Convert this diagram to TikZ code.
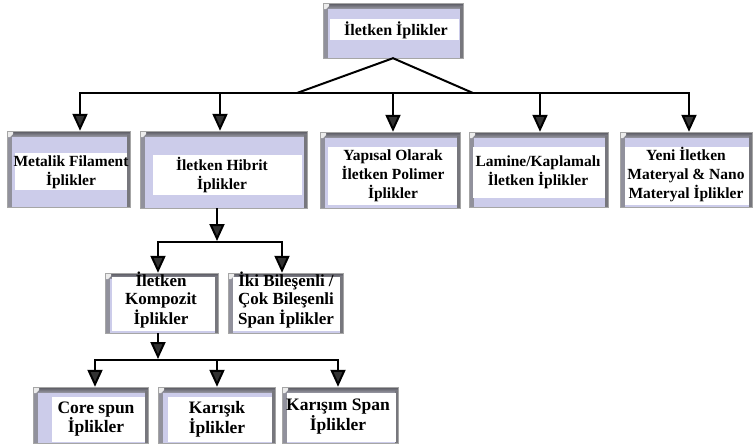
\documentclass[tikz,border=0pt]{standalone}
\usepackage{fontspec}
\setmainfont{Liberation Serif}
\usetikzlibrary{arrows.meta,fit}
\definecolor{lav}{RGB}{204,204,234}
\definecolor{bevdark}{RGB}{85,85,92}
\definecolor{bevmid}{RGB}{145,145,156}
\definecolor{tipgray}{RGB}{50,50,50}
\tikzset{
 outerbox/.style={fill=lav, draw=none, inner sep=0pt},
 innerbox/.style={fill=white, draw=none, inner sep=0pt},
 lbl/.style={font=\bfseries, align=center, inner sep=0pt, text=black},
 ln/.style={line width=2pt, black},
 arr/.style={line width=2pt, black, -{Triangle[width=15pt,length=17pt,fill=tipgray]}},
 fa/.style={font=\bfseries\fontsize{16}{19}\selectfont},
 fb/.style={font=\bfseries\fontsize{15.5}{19}\selectfont},
 fc/.style={font=\bfseries\fontsize{17}{18}\selectfont},
 fd/.style={font=\bfseries\fontsize{17.5}{19.5}\selectfont},
}
\newcommand\bevbox[9]{%
 \node[outerbox, fit={(#2,#3) (#4,#5)}] (#1) {};
 \shade[top color=bevdark, bottom color=bevmid] (#2,#3) rectangle (#4,#3+5);
 \fill[bevmid] (#2,#3+5) rectangle (#2+5,#5);
 \fill[bevdark!80] (#4-3,#3+4) rectangle (#4,#5);
 \fill[white!85!gray] (#2,#3) -- (#2+6,#3) -- (#2+6,#3+3) -- (#2+3,#3+6) -- (#2,#3+6) -- cycle;
 \draw[gray!70, line width=0.6pt] (#1.south west) rectangle (#1.north east);
 \node[innerbox, fit={(#6,#7) (#8,#9)}] (#1in) {};
}
\begin{document}
\begin{tikzpicture}[x=1pt,y=-1pt]
\useasboundingbox (0,0) rectangle (755,445);
% boxes
\bevbox{top}{323}{3}{463}{58}{330}{19}{459}{40}
\bevbox{metal}{7}{131}{130}{207}{15}{153}{127}{190}
\bevbox{hib}{140}{131}{307}{208}{153}{155}{302}{195}
\bevbox{yap}{320}{132}{460}{208}{328}{147}{457}{205}
\bevbox{lam}{469}{132}{608}{207}{473}{147}{605}{198}
\bevbox{yeni}{620}{132}{752}{207}{625}{147}{749}{205}
\bevbox{komp}{105}{273}{218}{333}{112}{277}{215}{331}
\bevbox{iki}{228}{273}{343}{333}{233}{277}{340}{331}
\bevbox{core}{33}{387}{148}{443}{52}{397}{145}{442}
\bevbox{kar}{158}{387}{275}{443}{168}{397}{272}{442}
\bevbox{karsp}{282}{387}{398}{443}{287}{393}{396}{442}
% labels
\node[lbl,fa] (ttop) at (396,30) {İletken İplikler};
\node[lbl,fb] (tmetal) at (71,172) {Metalik Filament\\İplikler};
\node[lbl,fb] (thib) at (222,175) {İletken Hibrit\\İplikler};
\node[lbl,fb] (tyap) at (393,176) {Yapısal Olarak\\İletken Polimer\\İplikler};
\node[lbl,fb] (tlam) at (538,172.5) {Lamine/Kaplamalı\\İletken İplikler};
\node[lbl,fb] (tyeni) at (686,175) {Yeni İletken\\Materyal \& Nano\\Materyal İplikler};
\node[lbl,fc] (tkomp) at (161,300) {İletken\\Kompozit\\İplikler};
\node[lbl,fc] (tiki) at (286,300) {İki Bileşenli /\\Çok Bileşenli\\Span İplikler};
\node[lbl,fd] (tcore) at (96,419) {Core spun\\İplikler};
\node[lbl,fd] (tkar) at (217,419.5) {Karışık\\İplikler};
\node[lbl,fd] (tkarsp) at (338,416.5) {Karışım Span\\İplikler};
% connectors, level 0 -> 1
\coordinate (busL) at (80,93);
\coordinate (busR) at (689,93);
\coordinate (legL) at (297,93);
\coordinate (legR) at (473,93);
\coordinate (b2) at (220,93);
\coordinate (b3) at (393,93);
\coordinate (b4) at (540,93);
\draw[ln] (legL) -- (top.south) -- (legR);
\draw[ln] ([xshift=-1pt]busL) -- ([xshift=1pt]busR);
\draw[arr] (busL) -- (busL |- metal.north);
\draw[arr] (b2) -- (b2 |- hib.north);
\draw[arr] (b3) -- (b3 |- yap.north);
\draw[arr] (b4) -- (b4 |- lam.north);
\draw[arr] (busR) -- (busR |- yeni.north);
% level 1 -> 2
\coordinate (h1) at (217,241);
\coordinate (h1L) at (158,242);
\coordinate (h1R) at (282,242);
\draw[arr] (h1 |- hib.south) -- (h1);
\draw[ln] ([xshift=-1pt]h1L) -- ([xshift=1pt]h1R);
\draw[arr] (h1L) -- (h1L |- komp.north);
\draw[arr] (h1R) -- (h1R |- iki.north);
% level 2 -> 3
\coordinate (k1) at (158,359);
\coordinate (k1L) at (95,360);
\coordinate (k1M) at (217,360);
\coordinate (k1R) at (338,360);
\draw[arr] (k1 |- komp.south) -- (k1);
\draw[ln] ([xshift=-1pt]k1L) -- ([xshift=1pt]k1R);
\draw[arr] (k1L) -- (k1L |- core.north);
\draw[arr] (k1M) -- (k1M |- kar.north);
\draw[arr] (k1R) -- (k1R |- karsp.north);
\end{tikzpicture}
\end{document}
